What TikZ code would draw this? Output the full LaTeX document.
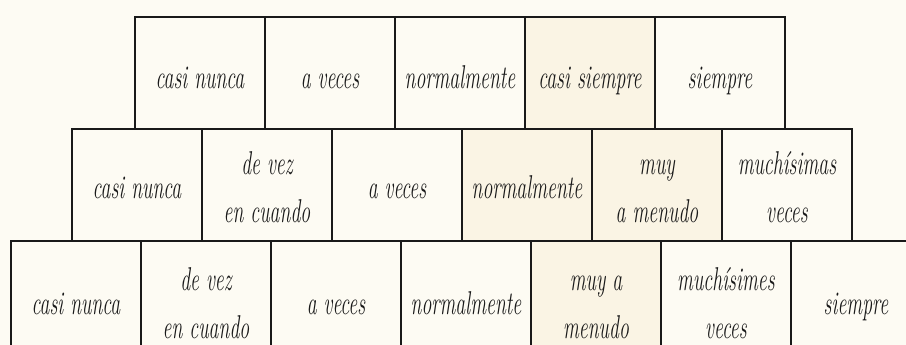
\documentclass[tikz,border=0pt]{standalone}
\usepackage{graphicx}
\definecolor{paper}{RGB}{253,251,243}
\definecolor{tint}{RGB}{250,244,228}
\definecolor{ink}{RGB}{25,25,25}
\newcommand{\cond}[1]{\scalebox{0.6}[1]{\begin{tabular}{@{}c@{}}#1\end{tabular}}}
\tikzset{
  cell/.style={draw=ink, line width=1.2pt, minimum width=130pt, minimum height=112pt, inner sep=0pt, outer sep=0pt},
  word/.style={font=\itshape\fontsize{33}{48}\selectfont, text=ink, inner sep=0pt},
}
\begin{document}
\begin{tikzpicture}[x=1pt, y=-1pt]
  \useasboundingbox[fill=paper] (0,0) rectangle (906,345);
  \clip (0,0) rectangle (906,345);
  % top row
  \foreach \t/\f [count=\i] in {{casi nunca}/paper, {a veces}/paper, {normalmente}/paper, {casi siempre}/tint, {siempre}/paper} {
    \node[cell, fill=\f] (a\i) at ({200+130*(\i-1)}, 73) {};
    \node[word] (a\i-t) at ([yshift=-6pt]a\i.center) {\cond{\t}};
  }
  % middle row
  \foreach \t/\f [count=\i] in {{casi nunca}/paper, {de vez\\en cuando}/paper, {a veces}/paper, {normalmente}/tint, {muy\\a menudo}/tint, {muchísimas\\veces}/paper} {
    \node[cell, fill=\f] (b\i) at ({137+130*(\i-1)}, 185) {};
    \node[word] (b\i-t) at ([yshift=-4pt]b\i.center) {\cond{\t}};
  }
  % bottom row
  \foreach \t/\f [count=\i] in {{casi nunca}/paper, {de vez\\en cuando}/paper, {a veces}/paper, {normalmente}/paper, {muy a\\menudo}/tint, {muchísimes\\veces}/paper, {siempre}/paper} {
    \node[cell, fill=\f] (c\i) at ({76+130*(\i-1)}, 297) {};
    \node[word] (c\i-t) at ([yshift=-8pt]c\i.center) {\cond{\t}};
  }
\end{tikzpicture}
\end{document}
